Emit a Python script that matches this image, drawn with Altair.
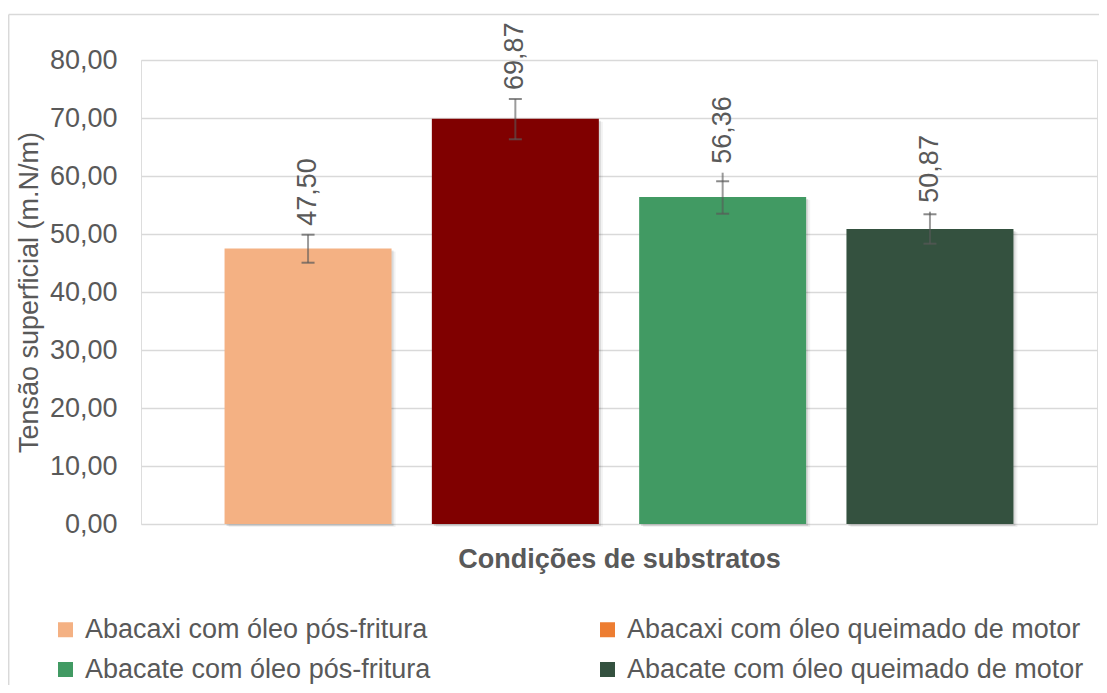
import altair as alt
import pandas as pd

# ---- data ----
series = [
    "Abacaxi com óleo pós-fritura",
    "Abacaxi com óleo queimado de motor",
    "Abacate com óleo pós-fritura",
    "Abacate com óleo queimado de motor",
]
values = [47.50, 69.87, 56.36, 50.87]
err_upper_cap = [49.88, 73.28, 59.09, 53.40]
err_lower = [45.05, 66.33, 53.50, 48.33]
err_line_top = [49.88, 73.28, 60.57, 53.85]
bar_colors = ["#F4B183", "#800000", "#419A63", "#34513F"]
legend_colors = ["#F4B183", "#ED7D31", "#419A63", "#34513F"]
y_ticks = [0, 10, 20, 30, 40, 50, 60, 70, 80]
legend_order = [0, 2, 1, 3]  # Vega fills legend columns top-to-bottom

df = pd.DataFrame({
    "serie": series,
    "valor": values,
    "cap_hi": err_upper_cap,
    "lo": err_lower,
    "line_top": err_line_top,
    "rotulo": [f"{v:.2f}".replace(".", ",") for v in values],
})

FONT = "Liberation Sans, Arial"
TXT = "#595959"
FS = 27
W, H = 956, 464

xscale = alt.Scale(domain=series, paddingInner=0.1944, paddingOuter=0.403)
yscale = alt.Scale(domain=[0, 80], nice=False)

x_enc = alt.X("serie:N", scale=xscale, sort=series,
              axis=alt.Axis(labels=False, ticks=False, domain=False, grid=False,
                            title="Condições de substratos", titleFontWeight="bold",
                            titleFontSize=FS, titleColor=TXT, titleFont=FONT,
                            titleBaseline="alphabetic", titleY=43))

base = alt.Chart(df)

shadow1 = base.mark_bar(xOffset=2, yOffset=2, color="#000000", opacity=0.10).encode(
    x=x_enc, y=alt.Y("valor:Q", scale=yscale))
shadow2 = base.mark_bar(xOffset=4, yOffset=3, color="#000000", opacity=0.05).encode(
    x=x_enc, y=alt.Y("valor:Q", scale=yscale))

bars = base.mark_bar().encode(
    x=x_enc,
    y=alt.Y("valor:Q", scale=yscale,
            axis=alt.Axis(values=y_ticks, grid=True, gridColor="#D9D9D9", gridWidth=1.3,
                          domain=False, ticks=False, tickSize=0, labelPadding=24,
                          labelFontSize=FS, labelColor=TXT, labelFont=FONT,
                          labelExpr="replace(format(datum.value, '.2f'), '.', ',')",
                          title="Tensão superficial (m.N/m)", titleFontSize=FS,
                          titleFontWeight="normal", titleColor=TXT, titleFont=FONT,
                          titleAngle=-90, titleX=-112, titleY=232,
                          titleAlign="center", titleBaseline="middle")),
    color=alt.Color("serie:N", scale=alt.Scale(domain=series, range=bar_colors), legend=None),
)

err_line = base.mark_rule(color="#595959", opacity=0.6, strokeWidth=2).encode(
    x=alt.X("serie:N", scale=xscale, sort=series),
    y=alt.Y("lo:Q", scale=yscale), y2="line_top:Q")

cap_hi = base.mark_tick(color="#595959", size=13, thickness=2, orient="horizontal").encode(
    x=alt.X("serie:N", scale=xscale, sort=series), y=alt.Y("cap_hi:Q", scale=yscale))
cap_lo = base.mark_tick(color="#595959", size=13, thickness=2, orient="horizontal").encode(
    x=alt.X("serie:N", scale=xscale, sort=series), y=alt.Y("lo:Q", scale=yscale))

labels = base.mark_text(angle=270, align="left", baseline="middle", dx=9,
                        fontSize=FS, color=TXT, font=FONT).encode(
    x=alt.X("serie:N", scale=xscale, sort=series),
    y=alt.Y("line_top:Q", scale=yscale), text="rotulo:N")

leg_domain = [series[i] for i in legend_order]
leg_range = [legend_colors[i] for i in legend_order]

legend_layer = base.mark_square(opacity=0, size=1).encode(
    x=alt.X("serie:N", scale=xscale, sort=series),
    y=alt.Y("valor:Q", scale=yscale),
    fill=alt.Fill("serie:N", scale=alt.Scale(domain=leg_domain, range=leg_range),
                  legend=alt.Legend(title=None, orient="none", legendX=-89, legendY=556,
                                    columns=2, columnPadding=163, rowPadding=12,
                                    symbolType="square", symbolSize=225, symbolOpacity=1,
                                    symbolStrokeWidth=0, labelOffset=6,
                                    labelFontSize=FS, labelColor=TXT, labelFont=FONT,
                                    labelLimit=600, padding=0)))

frame = alt.Data(values=[{"k": 1}])
frame_left = alt.Chart(frame).mark_rule(color="#D9D9D9", strokeWidth=1.5).encode(
    x=alt.value(-132.3), y=alt.value(-45.5), y2=alt.value(H + 161))
frame_top = alt.Chart(frame).mark_rule(color="#D9D9D9", strokeWidth=1.5).encode(
    x=alt.value(-132.3), x2=alt.value(W + 2), y=alt.value(-45.5))

chart = alt.layer(
    frame_left, frame_top, shadow2, shadow1, bars, err_line, cap_hi, cap_lo, labels, legend_layer
).resolve_scale(color="independent", fill="independent").properties(
    width=W, height=H,
    autosize=alt.AutoSizeParams(type="none"),
    padding={"left": 133, "top": 52, "right": 2, "bottom": 161},
).configure_view(strokeWidth=0).configure(background="white")

chart.save("out.html", embed_options={"renderer": "svg", "actions": False})
